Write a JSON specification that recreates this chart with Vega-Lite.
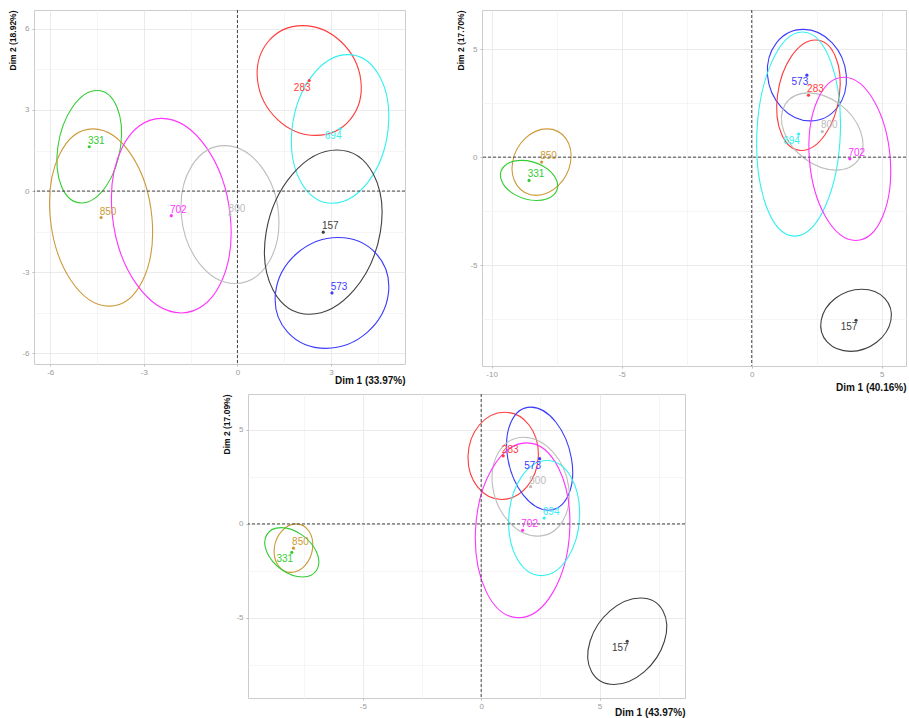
{
  "$schema": "https://vega.github.io/schema/vega-lite/v6.json",
  "padding": {"left": 8, "top": 9, "right": 0, "bottom": 0},
  "config": {
    "font": "Liberation Sans",
    "view": {"stroke": "#cccccc", "strokeWidth": 1},
    "axis": {"domain": false, "labelColor": "#9a9a9a", "labelFontSize": 8, "titleFontWeight": "bold", "titleColor": "#111111", "tickColor": "#bbbbbb", "tickSize": 2, "labelPadding": 3, "titlePadding": 4, "gridWidth": 0.8},
    "axisX": {"titleAnchor": "end", "titleFontSize": 10, "titleBaseline": "top", "labelPadding": 2},
    "axisY": {"titleAnchor": "end", "titleFontSize": 8.5},
    "text": {"fontSize": 10, "font": "Liberation Sans"}
  },
  "datasets": {
    "p1p": [
      {"id": "157", "x": 2.75, "y": -1.52}, {"id": "283", "x": 2.30, "y": 4.09}, {"id": "331", "x": -4.75, "y": 1.64}, {"id": "573", "x": 3.03, "y": -3.77},
      {"id": "694", "x": 3.29, "y": 2.30}, {"id": "702", "x": -2.12, "y": -0.91}, {"id": "800", "x": -0.24, "y": -0.87}, {"id": "850", "x": -4.37, "y": -0.98}
    ],
    "p1e": [
      {"id": "283", "k": 0, "x": 2.09, "y": 6.12}, {"id": "283", "k": 1, "x": 3.955, "y": 4.09}, {"id": "283", "k": 2, "x": 2.51, "y": 2.06}, {"id": "283", "k": 3, "x": 0.645, "y": 4.09},
      {"id": "694", "k": 0, "x": 3.54, "y": 5.05}, {"id": "694", "k": 1, "x": 4.83, "y": 2.30}, {"id": "694", "k": 2, "x": 3.04, "y": -0.45}, {"id": "694", "k": 3, "x": 1.75, "y": 2.30},
      {"id": "331", "k": 0, "x": -4.50, "y": 3.72}, {"id": "331", "k": 1, "x": -3.745, "y": 1.64}, {"id": "331", "k": 2, "x": -5.00, "y": -0.44}, {"id": "331", "k": 3, "x": -5.755, "y": 1.64},
      {"id": "850", "k": 0, "x": -4.63, "y": 2.30}, {"id": "850", "k": 1, "x": -2.74, "y": -0.98}, {"id": "850", "k": 2, "x": -4.11, "y": -4.26}, {"id": "850", "k": 3, "x": -6.00, "y": -0.98},
      {"id": "702", "k": 0, "x": -2.44, "y": 2.69}, {"id": "702", "k": 1, "x": -0.23, "y": -0.91}, {"id": "702", "k": 2, "x": -1.80, "y": -4.51}, {"id": "702", "k": 3, "x": -4.01, "y": -0.91},
      {"id": "800", "k": 0, "x": -0.41, "y": 1.68}, {"id": "800", "k": 1, "x": 1.32, "y": -0.87}, {"id": "800", "k": 2, "x": -0.07, "y": -3.42}, {"id": "800", "k": 3, "x": -1.80, "y": -0.87},
      {"id": "157", "k": 0, "x": 3.19, "y": 1.52}, {"id": "157", "k": 1, "x": 4.58, "y": -1.52}, {"id": "157", "k": 2, "x": 2.31, "y": -4.56}, {"id": "157", "k": 3, "x": 0.92, "y": -1.52},
      {"id": "573", "k": 0, "x": 3.23, "y": -1.72}, {"id": "573", "k": 1, "x": 4.84, "y": -3.77}, {"id": "573", "k": 2, "x": 2.83, "y": -5.82}, {"id": "573", "k": 3, "x": 1.22, "y": -3.77}
    ],
    "p2p": [
      {"id": "157", "x": 4.01, "y": -7.56}, {"id": "283", "x": 2.18, "y": 2.87}, {"id": "331", "x": -8.56, "y": -1.08}, {"id": "573", "x": 2.12, "y": 3.80},
      {"id": "694", "x": 1.80, "y": 1.07}, {"id": "702", "x": 3.77, "y": -0.08}, {"id": "800", "x": 2.71, "y": 1.19}, {"id": "850", "x": -8.08, "y": -0.23}
    ],
    "p2e": [
      {"id": "573", "k": 0, "x": 1.98, "y": 5.92}, {"id": "573", "k": 1, "x": 3.635, "y": 3.80}, {"id": "573", "k": 2, "x": 2.26, "y": 1.68}, {"id": "573", "k": 3, "x": 0.605, "y": 3.80},
      {"id": "283", "k": 0, "x": 2.45, "y": 5.43}, {"id": "283", "k": 1, "x": 3.37, "y": 2.87}, {"id": "283", "k": 2, "x": 1.91, "y": 0.31}, {"id": "283", "k": 3, "x": 0.99, "y": 2.87},
      {"id": "694", "k": 0, "x": 1.95, "y": 5.80}, {"id": "694", "k": 1, "x": 3.405, "y": 1.07}, {"id": "694", "k": 2, "x": 1.65, "y": -3.66}, {"id": "694", "k": 3, "x": 0.195, "y": 1.07},
      {"id": "800", "k": 0, "x": 2.18, "y": 2.98}, {"id": "800", "k": 1, "x": 4.185, "y": 1.19}, {"id": "800", "k": 2, "x": 3.24, "y": -0.60}, {"id": "800", "k": 3, "x": 1.235, "y": 1.19},
      {"id": "702", "k": 0, "x": 3.54, "y": 3.70}, {"id": "702", "k": 1, "x": 5.325, "y": -0.08}, {"id": "702", "k": 2, "x": 4.00, "y": -3.86}, {"id": "702", "k": 3, "x": 2.215, "y": -0.08},
      {"id": "850", "k": 0, "x": -7.87, "y": 1.31}, {"id": "850", "k": 1, "x": -6.965, "y": -0.23}, {"id": "850", "k": 2, "x": -8.29, "y": -1.77}, {"id": "850", "k": 3, "x": -9.195, "y": -0.23},
      {"id": "331", "k": 0, "x": -8.85, "y": -0.15}, {"id": "331", "k": 1, "x": -7.50, "y": -1.08}, {"id": "331", "k": 2, "x": -8.27, "y": -2.01}, {"id": "331", "k": 3, "x": -9.62, "y": -1.08},
      {"id": "157", "k": 0, "x": 4.23, "y": -6.12}, {"id": "157", "k": 1, "x": 5.35, "y": -7.56}, {"id": "157", "k": 2, "x": 3.79, "y": -9.00}, {"id": "157", "k": 3, "x": 2.67, "y": -7.56}
    ],
    "p3p": [
      {"id": "157", "x": 6.17, "y": -6.24}, {"id": "283", "x": 0.93, "y": 3.62}, {"id": "331", "x": -8.00, "y": -1.51}, {"id": "573", "x": 2.47, "y": 3.47},
      {"id": "694", "x": 2.66, "y": 0.31}, {"id": "702", "x": 1.75, "y": -0.34}, {"id": "800", "x": 2.09, "y": 1.98}, {"id": "850", "x": -7.93, "y": -1.29}
    ],
    "p3e": [
      {"id": "283", "k": 0, "x": 0.99, "y": 5.94}, {"id": "283", "k": 1, "x": 2.415, "y": 3.62}, {"id": "283", "k": 2, "x": 0.87, "y": 1.30}, {"id": "283", "k": 3, "x": -0.555, "y": 3.62},
      {"id": "573", "k": 0, "x": 2.10, "y": 6.21}, {"id": "573", "k": 1, "x": 3.815, "y": 3.47}, {"id": "573", "k": 2, "x": 2.84, "y": 0.73}, {"id": "573", "k": 3, "x": 1.125, "y": 3.47},
      {"id": "800", "k": 0, "x": 1.80, "y": 4.61}, {"id": "800", "k": 1, "x": 3.695, "y": 1.98}, {"id": "800", "k": 2, "x": 2.38, "y": -0.65}, {"id": "800", "k": 3, "x": 0.485, "y": 1.98},
      {"id": "702", "k": 0, "x": 1.92, "y": 4.31}, {"id": "702", "k": 1, "x": 3.74, "y": -0.34}, {"id": "702", "k": 2, "x": 1.58, "y": -4.99}, {"id": "702", "k": 3, "x": -0.24, "y": -0.34},
      {"id": "694", "k": 0, "x": 2.78, "y": 3.37}, {"id": "694", "k": 1, "x": 4.155, "y": 0.31}, {"id": "694", "k": 2, "x": 2.54, "y": -2.75}, {"id": "694", "k": 3, "x": 1.165, "y": 0.31},
      {"id": "850", "k": 0, "x": -7.82, "y": 0.00}, {"id": "850", "k": 1, "x": -7.12, "y": -1.29}, {"id": "850", "k": 2, "x": -8.04, "y": -2.58}, {"id": "850", "k": 3, "x": -8.74, "y": -1.29},
      {"id": "331", "k": 0, "x": -8.45, "y": -0.20}, {"id": "331", "k": 1, "x": -6.95, "y": -1.51}, {"id": "331", "k": 2, "x": -7.55, "y": -2.82}, {"id": "331", "k": 3, "x": -9.05, "y": -1.51},
      {"id": "157", "k": 0, "x": 6.73, "y": -3.94}, {"id": "157", "k": 1, "x": 7.74, "y": -6.24}, {"id": "157", "k": 2, "x": 5.61, "y": -8.54}, {"id": "157", "k": 3, "x": 4.60, "y": -6.24}
    ]
  },
  "resolve": {"scale": {"x": "independent", "y": "independent"}},
  "spacing": 0,
  "vconcat": [
    {
      "resolve": {"scale": {"x": "independent", "y": "independent"}},
      "spacing": 50,
      "hconcat": [
        {
          "width": 371, "height": 354,
          "layer": [
            {"data": {"name": "p1e"}, "mark": {"type": "line", "interpolate": "cardinal-closed", "tension": -0.657, "strokeWidth": 1.1, "clip": true},
             "encoding": {
               "x": {"field": "x", "type": "quantitative", "scale": {"domain": [-6.52, 5.37], "nice": false, "zero": false},
                     "axis": {"title": "Dim 1 (33.97%)", "titleY": 11, "values": [-6, -4.5, -3, -1.5, 0, 1.5, 3, 4.5], "labelExpr": "datum.value % 3 === 0 ? '' + datum.value : ''",
                              "gridColor": {"condition": {"test": "datum.value % 3 !== 0", "value": "#f3f3f3"}, "value": "#e6e6e6"},
                              "tickOpacity": {"condition": {"test": "datum.value % 3 !== 0", "value": 0}, "value": 1}}},
               "y": {"field": "y", "type": "quantitative", "scale": {"domain": [-6.4, 6.7], "nice": false, "zero": false},
                     "axis": {"title": "Dim 2 (18.92%)", "values": [-6, -4.5, -3, -1.5, 0, 1.5, 3, 4.5, 6], "labelExpr": "datum.value % 3 === 0 ? '' + datum.value : ''",
                              "gridColor": {"condition": {"test": "datum.value % 3 !== 0", "value": "#f3f3f3"}, "value": "#e6e6e6"},
                              "tickOpacity": {"condition": {"test": "datum.value % 3 !== 0", "value": 0}, "value": 1}}},
               "color": {"field": "id", "type": "nominal", "legend": null, "scale": {"domain": ["157", "283", "331", "573", "694", "702", "800", "850"], "range": ["#404040", "#ff3b3b", "#33cc33", "#3b3bff", "#33f0f0", "#ff33ff", "#bdbdbd", "#cc9a3a"]}},
               "order": {"field": "k", "type": "quantitative"}
             }},
            {"data": {"values": [{}]}, "mark": {"type": "rule", "strokeDash": [3, 2], "color": "#444444", "strokeWidth": 1}, "encoding": {"x": {"datum": 0}}},
            {"data": {"values": [{}]}, "mark": {"type": "rule", "strokeDash": [3, 2], "color": "#444444", "strokeWidth": 1}, "encoding": {"y": {"datum": 0}}},
            {"data": {"name": "p1p"}, "mark": {"type": "circle", "size": 10, "opacity": 1},
             "encoding": {"x": {"field": "x", "type": "quantitative"}, "y": {"field": "y", "type": "quantitative"}, "color": {"field": "id", "type": "nominal", "legend": null}}},
            {"data": {"name": "p1p"}, "transform": [{"filter": "indexof(['283', '694'], datum.id) < 0"}], "mark": {"type": "text", "dx": 7, "dy": -6},
             "encoding": {"x": {"field": "x", "type": "quantitative"}, "y": {"field": "y", "type": "quantitative"}, "text": {"field": "id"}, "color": {"field": "id", "type": "nominal", "legend": null}}},
            {"data": {"name": "p1p"}, "transform": [{"filter": "indexof(['283', '694'], datum.id) >= 0"}], "mark": {"type": "text", "dx": -7, "dy": 7},
             "encoding": {"x": {"field": "x", "type": "quantitative"}, "y": {"field": "y", "type": "quantitative"}, "text": {"field": "id"}, "color": {"field": "id", "type": "nominal", "legend": null}}}
          ]
        },
        {
          "width": 424, "height": 356,
          "layer": [
            {"data": {"name": "p2e"}, "mark": {"type": "line", "interpolate": "cardinal-closed", "tension": -0.657, "strokeWidth": 1.1, "clip": true},
             "encoding": {
               "x": {"field": "x", "type": "quantitative", "scale": {"domain": [-10.37, 5.93], "nice": false, "zero": false},
                     "axis": {"title": "Dim 1 (40.16%)", "titleY": 16, "values": [-10, -7.5, -5, -2.5, 0, 2.5, 5], "labelExpr": "datum.value % 5 === 0 ? '' + datum.value : ''",
                              "gridColor": {"condition": {"test": "datum.value % 5 !== 0", "value": "#f3f3f3"}, "value": "#e6e6e6"},
                              "tickOpacity": {"condition": {"test": "datum.value % 5 !== 0", "value": 0}, "value": 1}}},
               "y": {"field": "y", "type": "quantitative", "scale": {"domain": [-9.68, 6.82], "nice": false, "zero": false},
                     "axis": {"title": "Dim 2 (17.70%)", "values": [-7.5, -5, -2.5, 0, 2.5, 5], "labelExpr": "datum.value % 5 === 0 ? '' + datum.value : ''",
                              "gridColor": {"condition": {"test": "datum.value % 5 !== 0", "value": "#f3f3f3"}, "value": "#e6e6e6"},
                              "tickOpacity": {"condition": {"test": "datum.value % 5 !== 0", "value": 0}, "value": 1}}},
               "color": {"field": "id", "type": "nominal", "legend": null, "scale": {"domain": ["157", "283", "331", "573", "694", "702", "800", "850"], "range": ["#404040", "#ff3b3b", "#33cc33", "#3b3bff", "#33f0f0", "#ff33ff", "#bdbdbd", "#cc9a3a"]}},
               "order": {"field": "k", "type": "quantitative"}
             }},
            {"data": {"values": [{}]}, "mark": {"type": "rule", "strokeDash": [3, 2], "color": "#444444", "strokeWidth": 1}, "encoding": {"x": {"datum": 0}}},
            {"data": {"values": [{}]}, "mark": {"type": "rule", "strokeDash": [3, 2], "color": "#444444", "strokeWidth": 1}, "encoding": {"y": {"datum": 0}}},
            {"data": {"name": "p2p"}, "mark": {"type": "circle", "size": 10, "opacity": 1},
             "encoding": {"x": {"field": "x", "type": "quantitative"}, "y": {"field": "y", "type": "quantitative"}, "color": {"field": "id", "type": "nominal", "legend": null}}},
            {"data": {"name": "p2p"}, "transform": [{"filter": "indexof(['573', '694', '157'], datum.id) < 0"}], "mark": {"type": "text", "dx": 7, "dy": -6},
             "encoding": {"x": {"field": "x", "type": "quantitative"}, "y": {"field": "y", "type": "quantitative"}, "text": {"field": "id"}, "color": {"field": "id", "type": "nominal", "legend": null}}},
            {"data": {"name": "p2p"}, "transform": [{"filter": "indexof(['573', '694', '157'], datum.id) >= 0"}], "mark": {"type": "text", "dx": -7, "dy": 7},
             "encoding": {"x": {"field": "x", "type": "quantitative"}, "y": {"field": "y", "type": "quantitative"}, "text": {"field": "id"}, "color": {"field": "id", "type": "nominal", "legend": null}}}
          ]
        }
      ]
    },
    {
      "spacing": 24,
      "resolve": {"scale": {"x": "independent", "y": "independent"}},
      "hconcat": [
        {"width": 164, "height": 10, "view": {"stroke": null}, "data": {"values": [{}]}, "mark": {"type": "point", "opacity": 0}},
        {
          "width": 437, "height": 304,
          "layer": [
            {"data": {"name": "p3e"}, "mark": {"type": "line", "interpolate": "cardinal-closed", "tension": -0.657, "strokeWidth": 1.1, "clip": true},
             "encoding": {
               "x": {"field": "x", "type": "quantitative", "scale": {"domain": [-9.85, 8.61], "nice": false, "zero": false},
                     "axis": {"title": "Dim 1 (43.97%)", "titleY": 9, "values": [-7.5, -5, -2.5, 0, 2.5, 5, 7.5], "labelExpr": "datum.value % 5 === 0 ? '' + datum.value : ''",
                              "gridColor": {"condition": {"test": "datum.value % 5 !== 0", "value": "#f3f3f3"}, "value": "#e6e6e6"},
                              "tickOpacity": {"condition": {"test": "datum.value % 5 !== 0", "value": 0}, "value": 1}}},
               "y": {"field": "y", "type": "quantitative", "scale": {"domain": [-9.26, 6.91], "nice": false, "zero": false},
                     "axis": {"title": "Dim 2 (17.09%)", "values": [-7.5, -5, -2.5, 0, 2.5, 5], "labelExpr": "datum.value % 5 === 0 ? '' + datum.value : ''",
                              "gridColor": {"condition": {"test": "datum.value % 5 !== 0", "value": "#f3f3f3"}, "value": "#e6e6e6"},
                              "tickOpacity": {"condition": {"test": "datum.value % 5 !== 0", "value": 0}, "value": 1}}},
               "color": {"field": "id", "type": "nominal", "legend": null, "scale": {"domain": ["157", "283", "331", "573", "694", "702", "800", "850"], "range": ["#404040", "#ff3b3b", "#33cc33", "#3b3bff", "#33f0f0", "#ff33ff", "#bdbdbd", "#cc9a3a"]}},
               "order": {"field": "k", "type": "quantitative"}
             }},
            {"data": {"values": [{}]}, "mark": {"type": "rule", "strokeDash": [3, 2], "color": "#444444", "strokeWidth": 1}, "encoding": {"x": {"datum": 0}}},
            {"data": {"values": [{}]}, "mark": {"type": "rule", "strokeDash": [3, 2], "color": "#444444", "strokeWidth": 1}, "encoding": {"y": {"datum": 0}}},
            {"data": {"name": "p3p"}, "mark": {"type": "circle", "size": 10, "opacity": 1},
             "encoding": {"x": {"field": "x", "type": "quantitative"}, "y": {"field": "y", "type": "quantitative"}, "color": {"field": "id", "type": "nominal", "legend": null}}},
            {"data": {"name": "p3p"}, "transform": [{"filter": "indexof(['573', '331', '157'], datum.id) < 0"}], "mark": {"type": "text", "dx": 7, "dy": -6},
             "encoding": {"x": {"field": "x", "type": "quantitative"}, "y": {"field": "y", "type": "quantitative"}, "text": {"field": "id"}, "color": {"field": "id", "type": "nominal", "legend": null}}},
            {"data": {"name": "p3p"}, "transform": [{"filter": "indexof(['573', '331', '157'], datum.id) >= 0"}], "mark": {"type": "text", "dx": -7, "dy": 7},
             "encoding": {"x": {"field": "x", "type": "quantitative"}, "y": {"field": "y", "type": "quantitative"}, "text": {"field": "id"}, "color": {"field": "id", "type": "nominal", "legend": null}}}
          ]
        }
      ]
    }
  ]
}
